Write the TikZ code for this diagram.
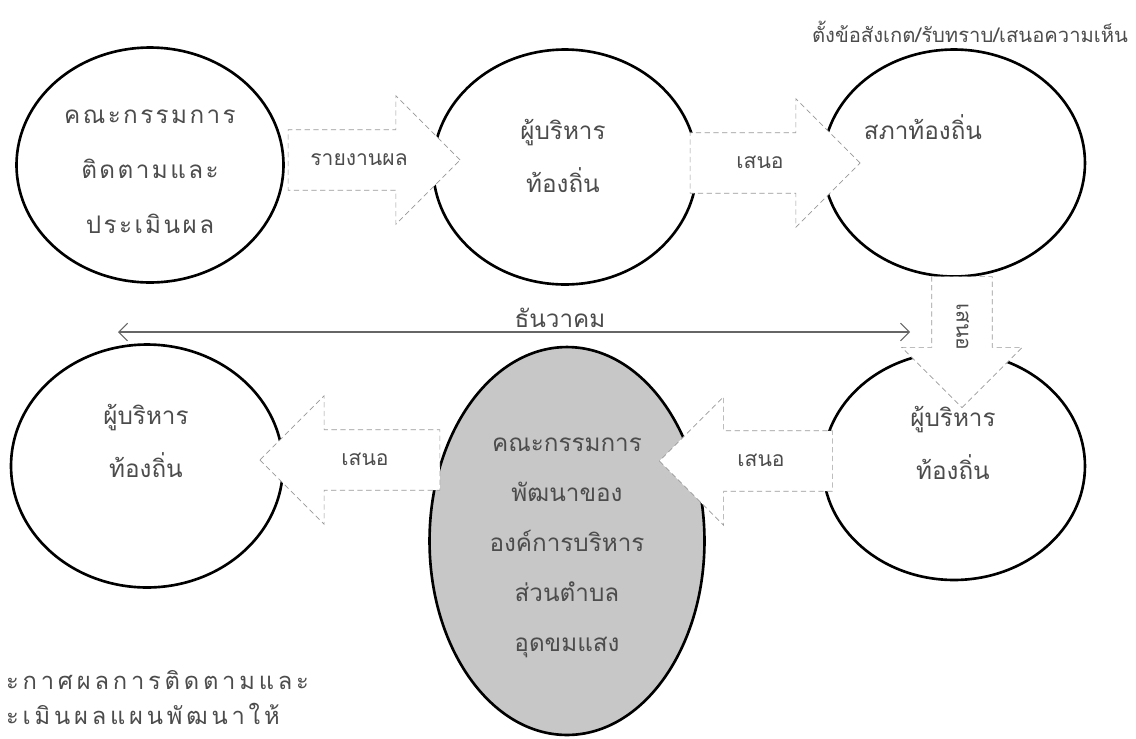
\documentclass[tikz,border=0pt]{standalone}
\usepackage{fontspec}
\newfontfamily\thaifont[Script=Thai]{Loma}
\newfontfamily\thaispaced[Script=Thai,LetterSpace=10]{Loma}
\newfontfamily\thaiwide[Script=Thai,LetterSpace=16]{Loma}
\usetikzlibrary{positioning,calc,arrows.meta,shapes.geometric,shapes.arrows}

\tikzset{
  oval/.style={ellipse,draw,line width=1.5pt,inner sep=0pt},
  lbl/.style={font=\thaifont\fontsize{13.8}{30}\selectfont,align=center,text=black!70},
  blockarrow/.style={single arrow,draw=black!40,densely dashed,fill=white,
    font=\thaifont\fontsize{12}{14}\selectfont,text=black!70,
    text height=9pt,text depth=3pt,inner xsep=2pt,inner ysep=11pt,
    single arrow head extend=0.68cm},
}

\begin{document}
\begin{tikzpicture}[x=0.02cm,y=-0.02cm]
\useasboundingbox (0,0) rectangle (1136,738);
% ovals
\node[oval,minimum width=5.34cm,minimum height=4.7cm] (comm) at (150,165) {};
\node[oval,minimum width=5.28cm,minimum height=4.7cm] (exec) at (565,167) {};
\node[oval,minimum width=5.24cm,minimum height=4.54cm] (council) at (954,163) {};
\node[oval,minimum width=5.44cm,minimum height=4.86cm] (execL) at (147,466) {};
\node[oval,minimum width=5.24cm,minimum height=4.56cm] (execR) at (954,466) {};
\node[oval,fill=black!22,minimum width=5.5cm,minimum height=7.76cm] (devcomm) at (567,541) {};
% december
\coordinate (decL) at (118,332);
\coordinate (decR) at (910,332);
\draw[black!60,line width=0.6pt,{Straight Barb[length=5pt]}-{Straight Barb[length=5pt]}] (decL) -- (decR);
\node[lbl] (dec) at (560,318) {ธันวาคม};
% block arrows
\node[blockarrow,minimum height=3.44cm] (report) at (359,160) {รายงานผล};
\node[blockarrow,minimum height=3.4cm] (prop1) at (760,163) {เสนอ};
\node[blockarrow,rotate=-90,single arrow head extend=0.6cm,minimum height=2.62cm] (prop2) at (962,327) {เสนอ};
\node[blockarrow,shape border rotate=180,minimum height=3.6cm] (prop3) at (365,460) {เสนอ};
\node[blockarrow,shape border rotate=180,minimum height=3.46cm] (prop4) at (761,461) {เสนอ};
% texts
\node[lbl,font=\thaispaced\fontsize{13.8}{31.3}\selectfont] (comm-t) at (150,172) {คณะกรรมการ\\ติดตามและ\\ประเมินผล};
\node[lbl] (exec-t) at (563,156) {ผู้บริหาร\\ท้องถิ่น};
\node[lbl] (council-t) at (923,127) {สภาท้องถิ่น};
\node[lbl,font=\thaifont\fontsize{11.5}{13}\selectfont] (note) at (970,32) {ตั้งข้อสังเกต/รับทราบ/เสนอความเห็น};
\node[lbl] (execL-t) at (146,441) {ผู้บริหาร\\ท้องถิ่น};
\node[lbl] (execR-t) at (953,443) {ผู้บริหาร\\ท้องถิ่น};
\node[lbl,font=\thaifont\fontsize{13.8}{28.5}\selectfont] (devcomm-t) at (567,548) {คณะกรรมการ\\พัฒนาของ\\องค์การบริหาร\\ส่วนตำบล\\อุดขมแสง};
\node[lbl,anchor=west,font=\thaiwide\fontsize{13.5}{15}\selectfont] (ann1) at (0,680) {ะกาศผลการติดตามและ};
\node[lbl,anchor=west,font=\thaiwide\fontsize{13.5}{15}\selectfont] (ann2) at (0,714) {ะเมินผลแผนพัฒนาให้};
\end{tikzpicture}
\end{document}
